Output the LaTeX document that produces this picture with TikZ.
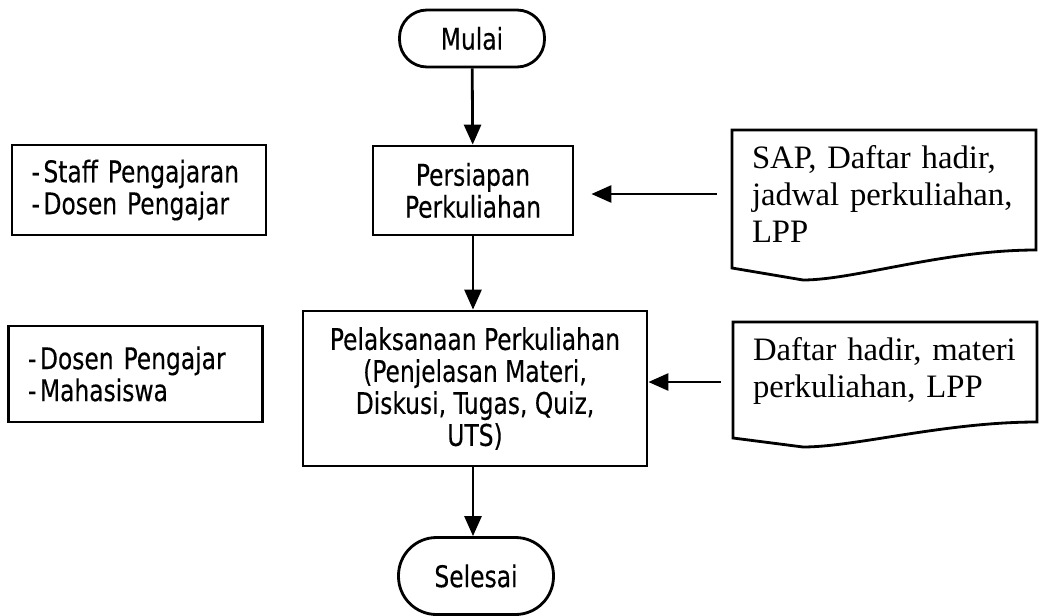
\documentclass[tikz,border=0pt]{standalone}
\usepackage{fontspec}
\usepackage{tikz}
\usetikzlibrary{shapes.geometric, arrows.meta}
\setmainfont{Liberation Serif}
\newfontfamily\tahoma[FakeStretch=0.87,FakeBold=0.3]{DejaVu Sans Condensed}
\hyphenpenalty=10000
\tikzset{
  startstop/.style={
    rectangle, 
    rounded corners=0.55cm,
    minimum width=2.9cm, 
    minimum height=1.14cm,
    align=center, 
    draw=black, 
    font=\tahoma\fontsize{17}{18.2}\selectfont
    },
  process/.style={
    rectangle, 
    align=center, 
    draw=black, 
    font=\tahoma\fontsize{17}{18.2}\selectfont
    },
  actor/.style={
    rectangle, 
    text width=4.3cm, 
    inner xsep=0.39cm,
    align=left, 
    draw=black, 
    font=\tahoma\fontsize{17}{18.2}\selectfont
    },
  doc/.style={
    text width=5.28cm,
    inner sep=0pt,
    align=left,
    font=\fontsize{18.6}{21}\selectfont
    },
  arrow/.style={line width=1.6pt,-{Triangle[length=0.4cm,width=0.34cm]}},
}

\begin{document}
\begin{tikzpicture}[line width=1.6pt]
    \useasboundingbox (0,0) rectangle (20.8,-12.32);

    % alur utama
    \node[startstop] (mulai) at (9.44,-0.77) {Mulai};
    \node[process, minimum width=4cm, minimum height=1.78cm] (persiapan) at (9.46,-3.81) {Persiapan\\Perkuliahan};
    \node[process, minimum width=6.88cm, minimum height=3.1cm] (pelaksanaan) at (9.5,-7.77) {Pelaksanaan Perkuliahan\\(Penjelasan Materi,\\Diskusi, Tugas, Quiz,\\UTS)};
    \node[startstop, minimum width=3.1cm, minimum height=1.54cm, rounded corners=0.76cm] (selesai) at (9.52,-11.52) {Selesai};

    % pelaku
    \node[actor, minimum height=1.8cm] (staff) at (2.78,-3.80) {-\kern2pt Staff Pengajaran\\-\kern2pt Dosen Pengajar};
    \node[actor, minimum height=1.92cm] (dosen) at (2.71,-7.48) {-\kern2pt Dosen Pengajar\\-\kern2pt Mahasiswa};

    % dokumen
    \node[doc] (sap) at (17.68,-3.88) {SAP, Daftar hadir,\\jadwal perkuliahan,\\LPP};
    \draw[shift={(sap.center)}] (-3.04,1.28) -- (3.04,1.28) -- (3.04,-1.12)
        .. controls (1.2,-1.12) and (-0.6,-1.72) .. (-1.62,-1.72) -- (-3.04,-1.48) -- cycle;
    \node[doc] (daftar) at (17.70,-7.42) {Daftar hadir, materi\\perkuliahan, LPP};
    \draw[shift={(daftar.center)}] (-3.04,0.98) -- (3.04,0.98) -- (3.04,-1.02)
        .. controls (1.2,-1.02) and (-0.6,-1.52) .. (-1.64,-1.52) -- (-3.04,-1.34) -- cycle;

    \draw[arrow] (mulai) -- (persiapan);
    \draw[arrow] (persiapan.south) -- (persiapan.south |- pelaksanaan.north);
    \draw[arrow] (pelaksanaan.south -| persiapan.south) -- (persiapan.south |- selesai.north);
    \draw[arrow, shorten <=0.68cm, shorten >=0.34cm] (sap.west) -- (sap.west -| persiapan.east);
    \draw[arrow, shorten <=0.62cm] ([yshift=-0.22cm]daftar.west) -- ([yshift=-0.22cm]daftar.west -| pelaksanaan.east);
\end{tikzpicture}
\end{document}
